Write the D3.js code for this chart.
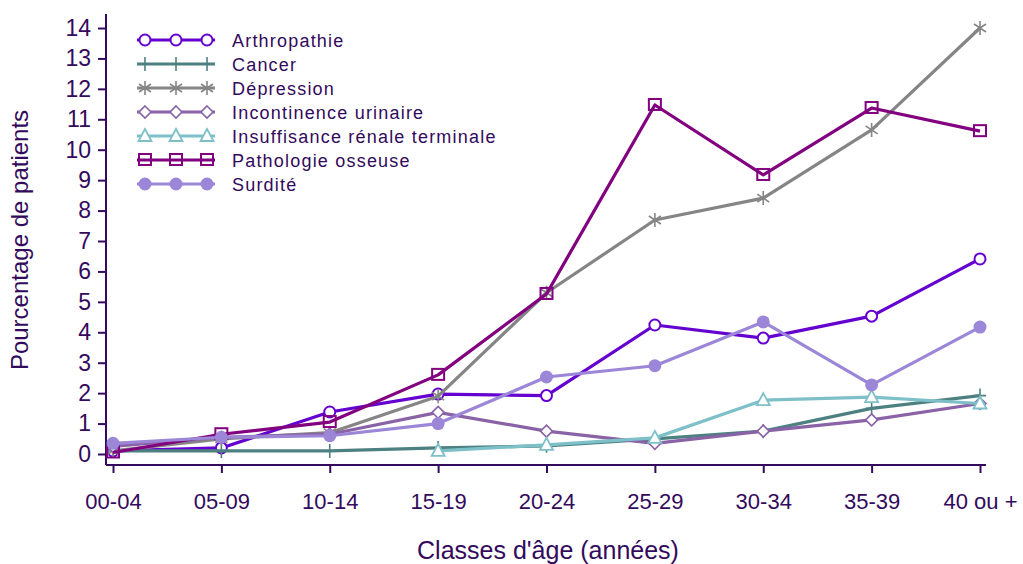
<!DOCTYPE html>
<html lang="fr">
<head>
<meta charset="utf-8">
<title>Pourcentage de patients par classe d'âge</title>
<script src="https://d3js.org/d3.v7.min.js"></script>
<style>
  body { margin: 0; background: #fff; }
  svg text { font-family: "Liberation Sans", Arial, sans-serif; fill: #330a5c; }
  .axis path, .axis line { stroke: #330a5c; stroke-width: 2; fill: none; }
</style>
</head>
<body>
<div id="chart"></div>
<script>
// age classes
var ageClasses = ["00-04", "05-09", "10-14", "15-19", "20-24", "25-29", "30-34", "35-39", "40 ou +"];
var yTicks = [0, 1, 2, 3, 4, 5, 6, 7, 8, 9, 10, 11, 12, 13, 14];

// series values (percent of patients)
var arthropathie = [0.1, 0.2, 1.38, 1.97, 1.92, 4.24, 3.81, 4.53, 6.41];
var cancer = [0.1, 0.1, 0.1, 0.2, 0.27, 0.5, 0.75, 1.5, 1.92];
var depression = [0.1, 0.5, 0.7, 1.9, 5.3, 7.69, 8.41, 10.65, 14.0];
var incontinence = [0.25, 0.55, 0.65, 1.37, 0.75, 0.35, 0.75, 1.12, 1.66];
var insuffisance = [null, null, null, 0.1, 0.3, 0.53, 1.77, 1.87, 1.66];
var pathologie = [0.05, 0.65, 1.05, 2.6, 5.26, 11.47, 9.17, 11.37, 10.61];
var surdite = [0.35, 0.55, 0.6, 1.0, 2.53, 2.9, 4.34, 2.27, 4.17];

var series = [
  {name: "Arthropathie", values: arthropathie, color: "#6400d0", marker: "circle"},
  {name: "Cancer", values: cancer, color: "#4d8080", marker: "plus"},
  {name: "Dépression", values: depression, color: "#858585", marker: "star"},
  {name: "Incontinence urinaire", values: incontinence, color: "#8a62a6", marker: "diamond"},
  {name: "Insuffisance rénale terminale", values: insuffisance, color: "#7dc0c8", marker: "triangle"},
  {name: "Pathologie osseuse", values: pathologie, color: "#82007f", marker: "square"},
  {name: "Surdité", values: surdite, color: "#9b86d8", marker: "dot"}
];

var width = 1023, height = 564;
var svg = d3.select("#chart").append("svg")
  .attr("width", width)
  .attr("height", height);

var x = d3.scalePoint().domain(ageClasses).range([113, 980]);
var y = d3.scaleLinear().domain([0, 14]).range([454, 28]);

// axes
var xAxis = svg.append("g")
  .attr("class", "axis")
  .attr("transform", "translate(0,465)")
  .call(d3.axisBottom(x).tickSize(8).tickSizeOuter(0).tickPadding(20));
xAxis.select(".domain").attr("d", "M106,0H986");
xAxis.selectAll("text").style("font-size", "22px");

var yAxis = svg.append("g")
  .attr("class", "axis")
  .attr("transform", "translate(106,0)")
  .call(d3.axisLeft(y).tickValues(yTicks).tickFormat(d3.format("d")).tickSize(8).tickSizeOuter(0).tickPadding(7));
yAxis.select(".domain").attr("d", "M0,14V465");
yAxis.selectAll("text").style("font-size", "23px");

svg.append("text")
  .attr("x", 548).attr("y", 559)
  .attr("text-anchor", "middle")
  .style("font-size", "25px")
  .text("Classes d'âge (années)");

svg.append("text")
  .attr("transform", "translate(28,240) rotate(-90)")
  .attr("text-anchor", "middle")
  .style("font-size", "24px")
  .text("Pourcentage de patients");

// marker drawing
function drawMarker(g, type, color) {
  if (type === "circle") {
    g.append("circle").attr("r", 5.5).attr("fill", "#fff").attr("stroke", color).attr("stroke-width", 2);
  } else if (type === "dot") {
    g.append("circle").attr("r", 6.5).attr("fill", color);
  } else if (type === "square") {
    g.append("rect").attr("x", -6).attr("y", -6).attr("width", 12).attr("height", 11)
      .attr("fill", "none").attr("stroke", color).attr("stroke-width", 2);
  } else if (type === "diamond") {
    g.append("path").attr("d", "M0,-6L6,0L0,6L-6,0Z").attr("fill", "#fff").attr("stroke", color).attr("stroke-width", 1.6);
  } else if (type === "triangle") {
    g.append("path").attr("d", "M0,-7L6.5,5L-6.5,5Z").attr("fill", "#fff").attr("stroke", color).attr("stroke-width", 1.8);
  } else if (type === "plus") {
    g.append("path").attr("d", "M0,-7V7M-6,0H6").attr("stroke", color).attr("stroke-width", 1.6);
  } else if (type === "star") {
    g.append("path").attr("d", "M0,-7V7M-6,-4L6,4M-6,4L6,-4").attr("stroke", color).attr("stroke-width", 1.6);
  }
}

var line = d3.line()
  .defined(function(d) { return d.v !== null; })
  .x(function(d) { return x(d.c); })
  .y(function(d) { return y(d.v); });

series.forEach(function(s) {
  var pts = s.values.map(function(v, i) { return {c: ageClasses[i], v: v}; });
  var g = svg.append("g");
  g.append("path")
    .datum(pts)
    .attr("d", line)
    .attr("fill", "none")
    .attr("stroke", s.color)
    .attr("stroke-width", 3.2)
    .attr("stroke-linejoin", "round");
  pts.filter(function(d) { return d.v !== null; }).forEach(function(d) {
    var m = g.append("g").attr("transform", "translate(" + x(d.c) + "," + y(d.v) + ")");
    drawMarker(m, s.marker, s.color);
  });
});

// legend
var legend = svg.append("g");
series.forEach(function(s, i) {
  var ly = 40 + i * 24;
  var row = legend.append("g").attr("transform", "translate(0," + ly + ")");
  row.append("line").attr("x1", 137).attr("x2", 215).attr("y1", 0).attr("y2", 0)
    .attr("stroke", s.color).attr("stroke-width", 3);
  [145, 176, 207].forEach(function(mx) {
    drawMarker(row.append("g").attr("transform", "translate(" + mx + ",0)"), s.marker, s.color);
  });
  row.append("text").attr("x", 232).attr("y", 7)
    .style("font-size", "18px")
    .style("letter-spacing", "1.2px")
    .text(s.name);
});
</script>
</body>
</html>
